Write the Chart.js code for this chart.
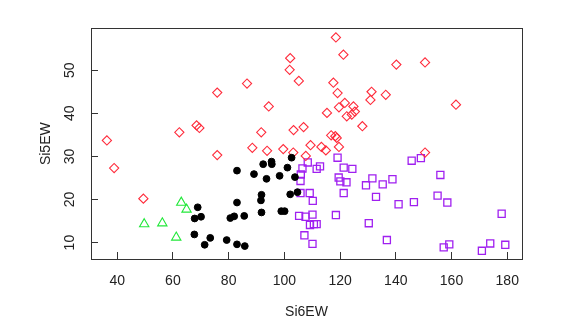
<!DOCTYPE html>
<html>
<head>
<meta charset="utf-8">
<script src="https://cdn.jsdelivr.net/npm/chart.js@4"></script>
<style>
  html, body { margin: 0; padding: 0; background: #fff; }
  #wrap { width: 568px; height: 328px; }
</style>
</head>
<body>
<div id="wrap"><canvas id="si-chart" width="568" height="328"></canvas></div>
<script>
'use strict';

// Data********** //
let xTicks = [40, 60, 80, 100, 120, 140, 160, 180];
let yTicks = [10, 20, 30, 40, 50];

let triX = [49.7, 56.2, 63.0, 64.9, 61.2];
let triY = [14.3, 14.5, 19.3, 17.7, 11.2];

let dotX = [68.9, 67.8, 70.1, 67.7, 71.4, 73.4, 79.3, 83.0, 83.0, 80.6, 82.0, 83.0, 85.8, 85.6, 89.1,
  92.4, 95.4, 95.5, 93.6, 98.3, 101.1, 102.6, 103.8, 91.8, 91.6, 102.1, 104.7, 91.8, 98.9, 100.1];
let dotY = [18.2, 15.6, 16.0, 11.9, 9.5, 11.1, 10.6, 26.7, 19.3, 15.7, 16.1, 9.6, 9.2, 16.2, 25.9,
  28.2, 28.8, 28.2, 24.8, 25.5, 27.4, 29.7, 25.2, 21.1, 19.8, 21.2, 21.7, 17.0, 17.3, 17.3];

let diaX = [36.3, 38.9, 49.4, 62.3, 68.5, 69.5, 75.9, 75.9, 118.5, 121.2, 140.2, 102.1, 101.9, 105.2, 86.6,
  117.6, 119.1, 131.3, 130.9, 136.4, 121.7, 119.6, 115.3, 94.4, 124.8, 125.3, 124.2, 122.4, 128.0, 106.9,
  103.3, 91.7, 116.8, 118.3, 118.8, 88.5, 93.8, 99.6, 103.2, 109.4, 113.3, 114.9, 119.6, 107.7, 150.5,
  161.6, 150.5];
let diaY = [33.7, 27.3, 20.2, 35.6, 37.2, 36.6, 44.8, 30.3, 57.6, 53.6, 51.3, 52.8, 50.1, 47.5, 46.9,
  47.1, 44.7, 45.0, 43.1, 44.3, 42.4, 41.4, 40.1, 41.6, 41.6, 40.4, 39.7, 39.3, 37.0, 36.8,
  36.1, 35.6, 34.9, 34.7, 34.3, 32.0, 31.3, 31.7, 30.9, 32.6, 32.2, 31.4, 32.2, 30.1, 51.8,
  42.0, 30.9];

let sqX = [108.4, 106.5, 111.6, 112.8, 119.1, 121.3, 124.4, 105.9, 105.8, 119.5, 120.1, 122.3, 129.3, 131.6, 135.3,
  138.8, 121.3, 132.9, 141.0, 105.8, 109.1, 110.2, 105.3, 107.6, 110.1, 118.5, 109.2, 110.6, 111.6, 130.3,
  107.2, 110.1, 136.8, 145.7, 149.0, 156.0, 155.0, 158.5, 146.5, 178.0, 157.2, 159.2, 170.9, 173.9, 179.3];
let sqY = [28.6, 27.2, 27.1, 27.7, 29.7, 27.4, 27.1, 25.8, 24.3, 25.1, 24.2, 24.0, 23.3, 24.9, 23.5,
  24.7, 21.5, 20.6, 18.9, 21.5, 21.5, 19.7, 16.2, 16.0, 16.5, 16.4, 14.1, 14.3, 14.3, 14.5,
  11.7, 9.7, 10.6, 29.0, 29.6, 25.7, 20.9, 19.3, 19.4, 16.7, 8.9, 9.6, 8.1, 9.8, 9.5];

// Helpers********//
function toPoints(xs, ys) {
  let pts = [];
  for (let i = 0; i < xs.length; i++) {
    pts.push({ x: xs[i], y: ys[i] });
  }
  return pts;
}

let axisColor = '#333333';
let font = { family: 'Liberation Sans, Arial, sans-serif', size: 14 };

// box around the plot, like R's bty = 'o'
let framePlugin = {
  id: 'frame',
  afterDraw(chart) {
    let a = chart.chartArea;
    let c = chart.ctx;
    c.save();
    c.strokeStyle = axisColor;
    c.lineWidth = 1;
    c.strokeRect(Math.round(a.left) + 0.5, Math.round(a.top) + 0.5,
      Math.round(a.right - a.left), Math.round(a.bottom - a.top));
    c.restore();
  }
};

// Chart********//
let ctx = document.getElementById('si-chart');

new Chart(ctx, {
  type: 'scatter',
  data: {
    datasets: [
      {
        label: 'tri',
        data: toPoints(triX, triY),
        pointStyle: 'triangle',
        pointRadius: 5.4,
        borderColor: '#22e83a',
        backgroundColor: 'rgba(0,0,0,0)',
        borderWidth: 1.1
      },
      {
        label: 'dot',
        data: toPoints(dotX, dotY),
        pointStyle: 'circle',
        pointRadius: 3.4,
        borderColor: '#000000',
        backgroundColor: '#000000',
        borderWidth: 1
      },
      {
        label: 'dia',
        data: toPoints(diaX, diaY),
        pointStyle: 'rectRot',
        pointRadius: 4.6,
        borderColor: '#ff2b3b',
        backgroundColor: 'rgba(0,0,0,0)',
        borderWidth: 1.1
      },
      {
        label: 'sq',
        data: toPoints(sqX, sqY),
        pointStyle: 'rect',
        pointRadius: 5,
        borderColor: '#a020f0',
        backgroundColor: 'rgba(0,0,0,0)',
        borderWidth: 1.3
      }
    ]
  },
  options: {
    responsive: false,
    animation: false,
    layout: { padding: { left: 0, top: 26, right: 46, bottom: 0 } },
    plugins: {
      legend: { display: false },
      tooltip: { enabled: false }
    },
    scales: {
      x: {
        type: 'linear',
        min: 30.6,
        max: 185.3,
        afterBuildTicks(scale) {
          scale.ticks = xTicks.map(v => ({ value: v }));
        },
        afterFit(scale) {
          scale.height = 69;
        },
        grid: { drawOnChartArea: false, drawTicks: true, tickLength: -7, color: axisColor },
        border: { display: true, color: axisColor, width: 1 },
        ticks: { color: '#222', font: font, padding: 21, maxRotation: 0 },
        title: { display: true, text: 'Si6EW', color: '#222', font: font, padding: { top: 0, bottom: 7 } }
      },
      y: {
        type: 'linear',
        min: 6.2,
        max: 59.7,
        afterBuildTicks(scale) {
          scale.ticks = yTicks.map(v => ({ value: v }));
        },
        afterFit(scale) {
          scale.width = 91;
        },
        grid: { drawOnChartArea: false, drawTicks: true, tickLength: -7, color: axisColor },
        border: { display: true, color: axisColor, width: 1 },
        ticks: { color: '#222', font: font, padding: 20, minRotation: 90, maxRotation: 90, crossAlign: 'center' },
        title: { display: true, text: 'Si5EW', color: '#222', font: font, padding: { top: 38, bottom: 0 } }
      }
    }
  },
  plugins: [framePlugin]
});
</script>
</body>
</html>
